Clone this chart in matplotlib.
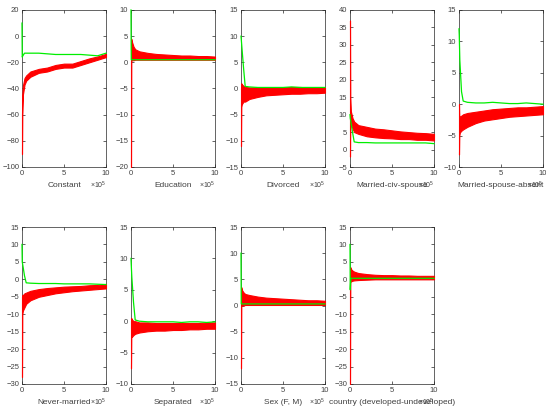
import numpy as np
import matplotlib
matplotlib.use('Agg')
import matplotlib.pyplot as plt

plt.rcParams['font.family'] = ['Liberation Sans', 'DejaVu Sans']
plt.rcParams['mathtext.default'] = 'regular'

# sample positions (in units of 1e5 iterations)
xs = [0, 0.03, 0.1, 0.3, 0.5, 1, 2, 3, 4, 5, 6, 7, 8, 9, 10]

names = ['Constant', 'Education', 'Divorced', 'Married-civ-spouse',
         'Married-spouse-absent', 'Never-married', 'Separated',
         'Sex (F, M)', 'country (developed-undeveloped)']

ylims = [(-100, 20, 20), (-20, 10, 5), (-15, 15, 5), (-5, 40, 5), (-10, 15, 5),
         (-30, 15, 5), (-10, 15, 5), (-15, 15, 5), (-30, 15, 5)]

green = [
    [10, -16, -15, -13, -13, -13, -13, -13.5, -14, -14, -14, -14, -14.5, -15, -13],
    [10, 0.5, 0.5, 0.5, 0.5, 0.5, 0.5, 0.5, 0.5, 0.5, 0.5, 0.5, 0.5, 0.5, 0.5],
    [10, 9.5, 8, 4, 0.4, 0.3, 0.2, 0.2, 0.2, 0.2, 0.3, 0.2, 0.2, 0.2, 0.2],
    [10, 9, 8, 5, 2.2, 2, 2, 1.9, 1.9, 1.9, 1.9, 1.9, 1.9, 1.9, 1.7],
    [12, 11, 7, 2, 0.5, 0.3, 0.2, 0.2, 0.3, 0.2, 0.1, 0.1, 0.2, 0.1, 0],
    [10, 5, 4, 1, -1, -1.1, -1.2, -1.2, -1.2, -1.3, -1.3, -1.3, -1.3, -1.4, -1.5],
    [10, 9, 7, 3, 0.2, 0, -0.1, -0.1, -0.1, -0.1, -0.2, -0.1, -0.1, -0.2, -0.1],
    [10, 0.3, 0.3, 0.3, 0.3, 0.3, 0.3, 0.3, 0.3, 0.3, 0.3, 0.3, 0.3, 0.3, 0.3],
    [10, -3, 0.3, 0.3, 0.3, 0.3, 0.3, 0.3, 0.3, 0.3, 0.3, 0.3, 0.3, 0.3, 0.3],
]

red_lo = [
    [-90, -60, -45, -37, -34, -31, -28, -27, -25, -24, -24, -22, -20, -18, -16],
    [-20, 0.3, 0.4, 0.4, 0.5, 0.5, 0.5, 0.5, 0.5, 0.5, 0.5, 0.5, 0.5, 0.5, 0.5],
    [-11, -3.5, -3, -2.5, -2.5, -2, -1.6, -1.3, -1.2, -1.1, -1, -1, -0.9, -0.9, -0.8],
    [-2, 9, 7.5, 6, 5, 4.5, 3.8, 3.5, 3.3, 3.2, 3, 3, 2.8, 2.8, 2.6],
    [-8, -5, -4.5, -4.2, -4, -3.6, -3, -2.6, -2.4, -2.2, -2, -1.9, -1.8, -1.7, -1.6],
    [-28, -10, -9, -8, -7, -6, -5, -4.5, -4, -3.7, -3.4, -3.2, -3, -2.8, -2.6],
    [-7.5, -2.5, -2.5, -2.2, -2, -1.8, -1.6, -1.5, -1.5, -1.4, -1.4, -1.3, -1.3, -1.2, -1.2],
    [-12, 0, 0, 0, 0.1, 0.1, 0.1, 0.1, 0.1, 0.1, 0.1, 0.1, 0.1, 0.1, 0.1],
    [-30, -0.8, -0.6, -0.4, -0.3, -0.2, -0.1, 0, 0, 0, 0, 0, 0, 0, 0],
]

red_hi = [
    [-60, -45, -38, -32, -30, -27, -25, -24, -22, -21, -21, -19, -17, -15.5, -13.5],
    [0, 4.5, 4, 3, 2.5, 2.1, 1.8, 1.6, 1.5, 1.4, 1.3, 1.3, 1.2, 1.2, 1.1],
    [0, 1, 0.8, 0.5, 0.3, 0.2, 0.2, 0.2, 0.2, 0.2, 0.3, 0.3, 0.2, 0.2, 0.2],
    [37, 15, 11, 9, 8, 7, 6.5, 6, 5.8, 5.5, 5.2, 5, 4.8, 4.7, 4.5],
    [0, -2, -2, -1.8, -1.6, -1.4, -1.2, -1, -0.8, -0.7, -0.6, -0.5, -0.5, -0.4, -0.3],
    [-5, -4.5, -4.5, -4, -3.8, -3.3, -2.8, -2.5, -2.3, -2.1, -2, -1.9, -1.7, -1.6, -1.3],
    [0, 0.5, 0.3, 0, 0, -0.2, -0.2, -0.3, -0.3, -0.3, -0.3, -0.3, -0.3, -0.2, -0.2],
    [0, 3.5, 3, 2.5, 2.2, 2, 1.7, 1.5, 1.4, 1.3, 1.2, 1.1, 1.0, 1.0, 0.9],
    [0, 3.5, 3, 2.5, 2.2, 1.8, 1.5, 1.3, 1.2, 1.2, 1.1, 1.1, 1.0, 1.0, 1.0],
]

W, H = 546, 412
fig = plt.figure(figsize=(W / 100, H / 100), dpi=100)

lefts = [22, 131, 241, 350, 459]
tops = [10, 227]
aw, ah = 84, 157
x = np.array(xs) * 1e5
axcol = '#262626'
tickcol = '#404040'

for i, name in enumerate(names):
    r, c = divmod(i, 5)
    ax = fig.add_axes([lefts[c] / W, 1 - (tops[r] + ah) / H, aw / W, ah / H])
    ax.fill_between(x, red_lo[i], red_hi[i], color='red', lw=0.8, zorder=3,
                    clip_on=False)
    ax.plot(x, green[i], color='#00ee00', lw=0.9, zorder=4, clip_on=False)
    lo, hi, step = ylims[i]
    ax.set_ylim(lo, hi)
    ax.set_yticks(np.arange(lo, hi + 0.1, step))
    ax.set_xlim(0, 1e6)
    ax.set_xticks([0, 5e5, 1e6])
    ax.set_xticklabels(['0', '5', '10'])
    ax.tick_params(direction='in', length=2, width=0.5, labelsize=5.5,
                   colors=axcol, labelcolor=tickcol, top=True, right=True, pad=2)
    for s in ax.spines.values():
        s.set_linewidth(0.5)
        s.set_color(axcol)
    ax.annotate(name, xy=(0.5, 0), xycoords='axes fraction', xytext=(0, -13),
                textcoords='offset points', ha='center', va='center',
                fontsize=6, color=tickcol)
    ax.annotate(r'$\times10^5$', xy=(1, 0), xycoords='axes fraction',
                xytext=(0, -13), textcoords='offset points', ha='right',
                va='center', fontsize=5, color=tickcol)

fig.savefig('out.png', dpi=100)
